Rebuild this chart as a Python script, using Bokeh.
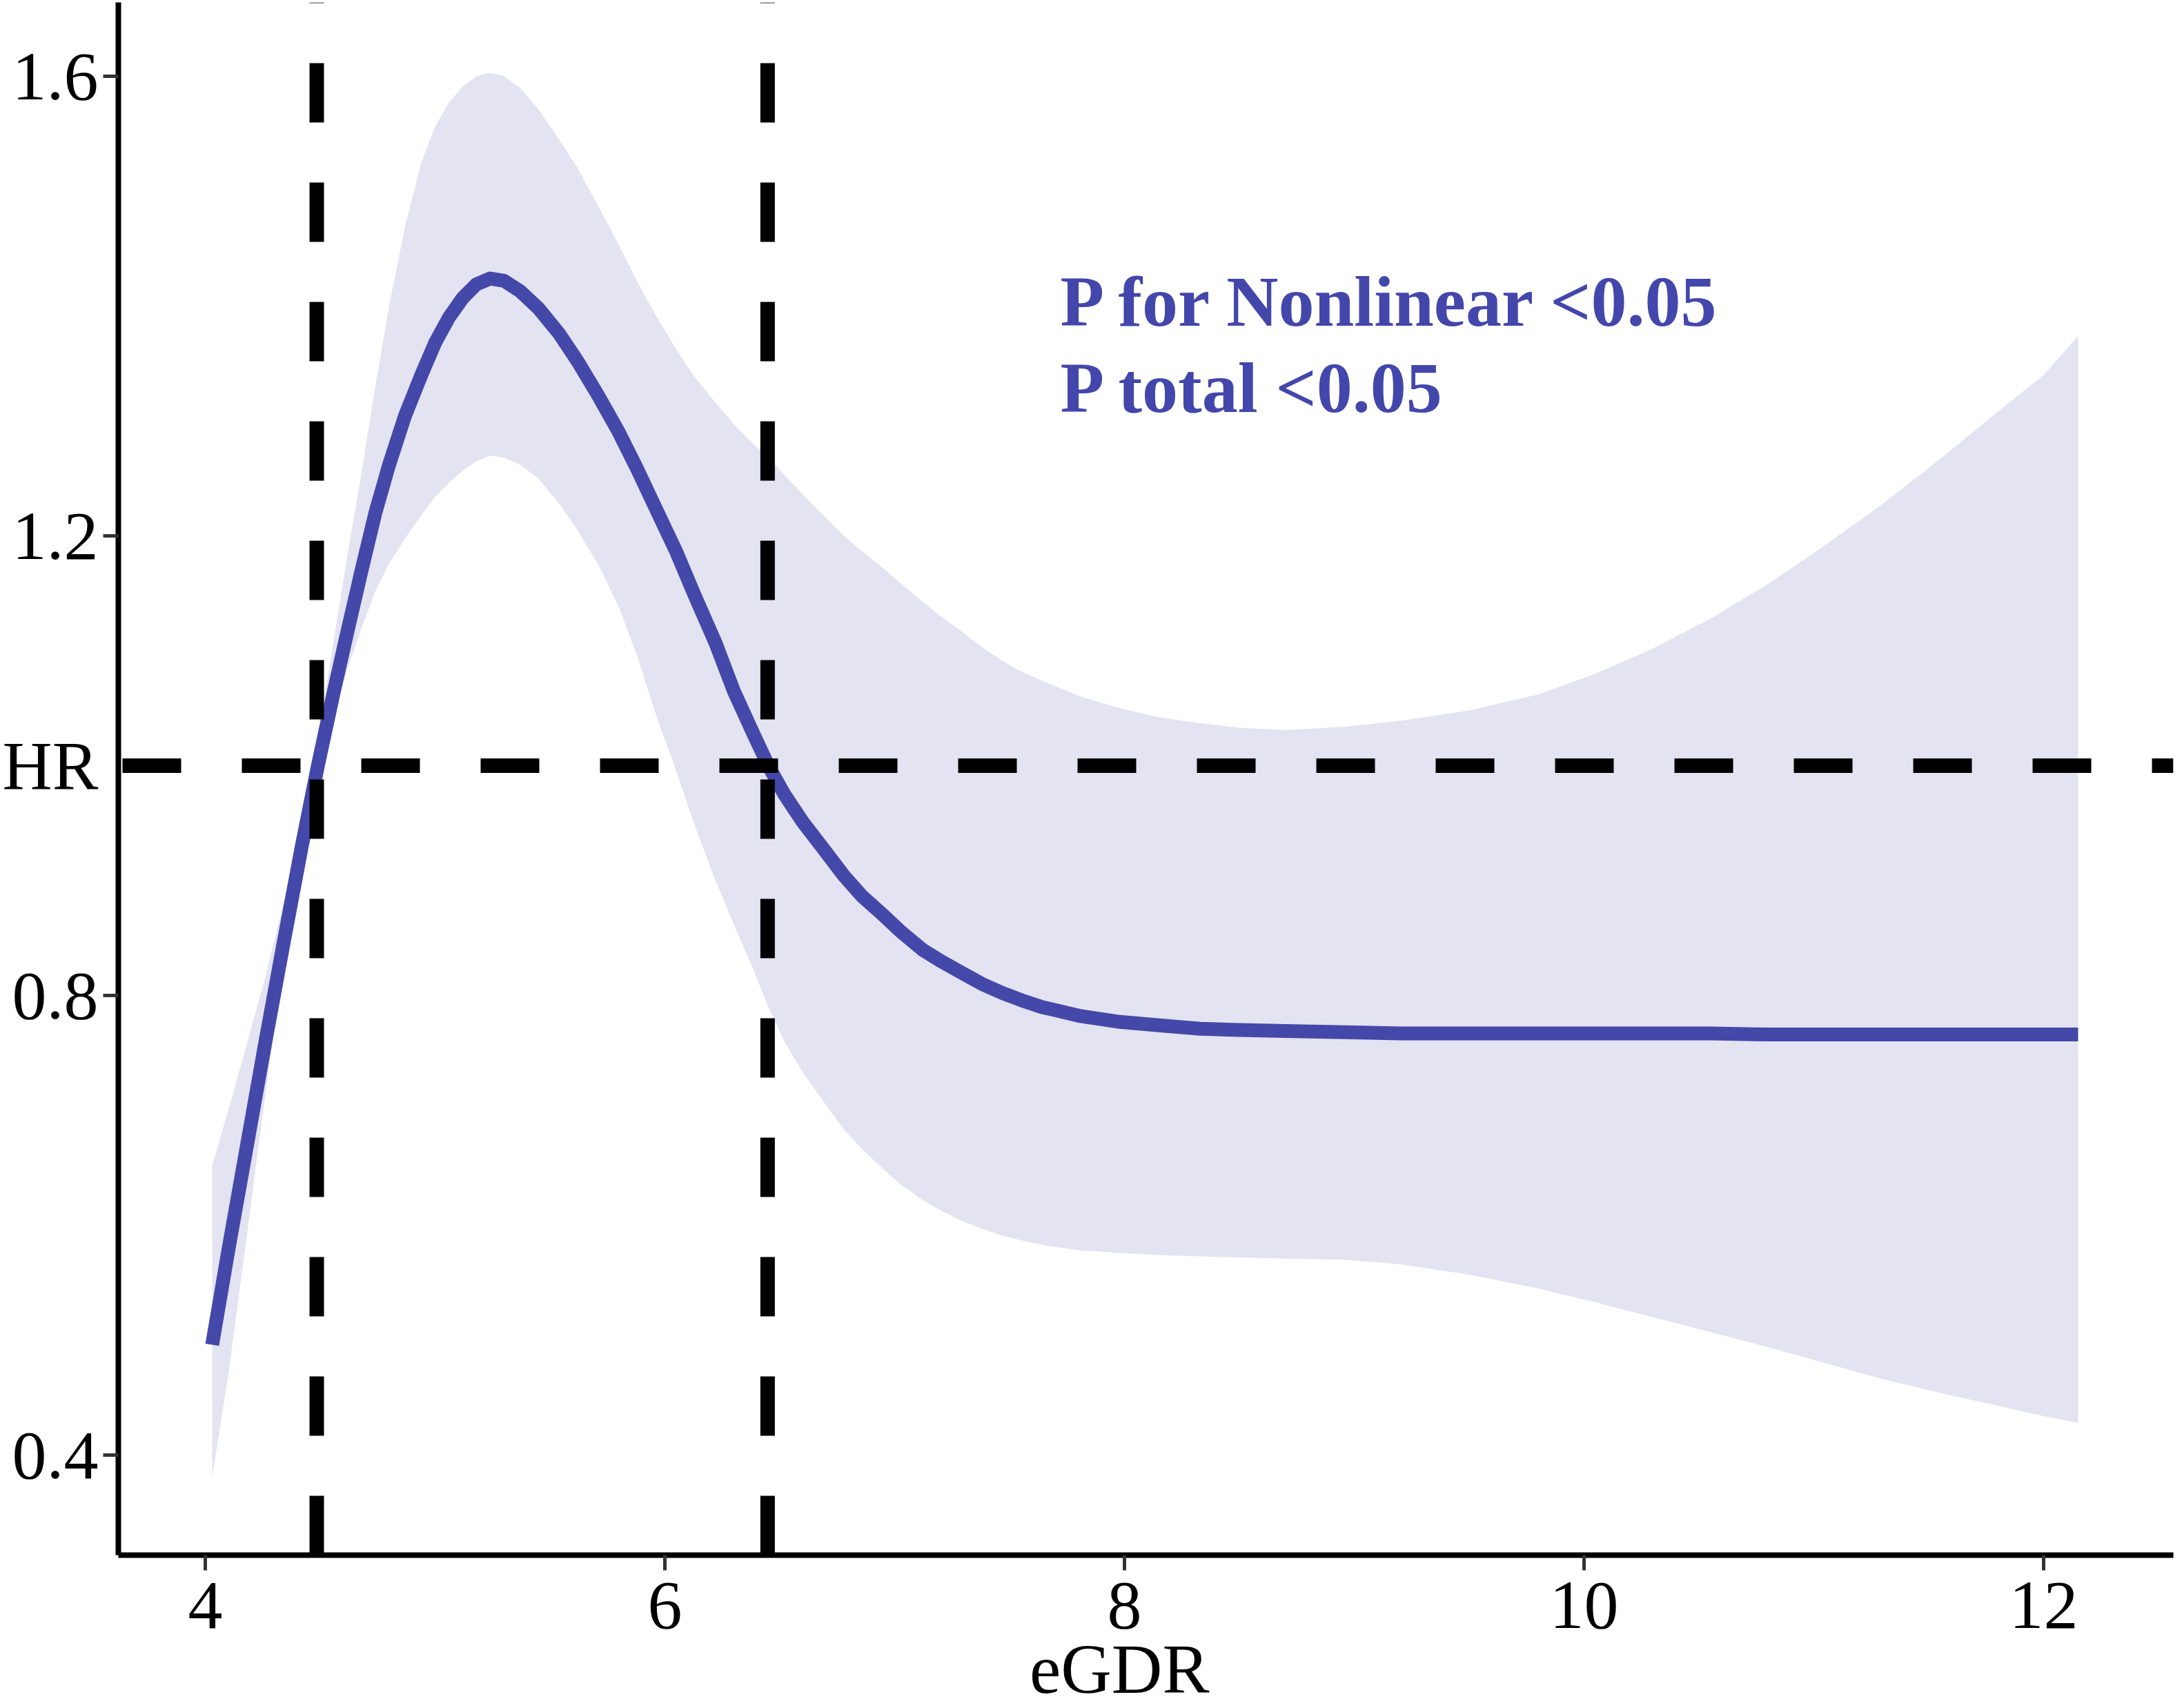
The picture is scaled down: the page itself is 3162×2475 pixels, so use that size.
from bokeh.plotting import figure
from bokeh.models import Range1d, Label, FixedTicker
from bokeh.embed import file_html
from bokeh.resources import INLINE

# ---- data ----
egdr = [4.03, 4.10, 4.18, 4.26, 4.34, 4.42, 4.49, 4.56, 4.62, 4.68, 4.74, 4.80,
        4.87, 4.94, 5.00, 5.06, 5.12, 5.18, 5.24, 5.30, 5.37, 5.45, 5.54, 5.62,
        5.71, 5.80, 5.88, 5.96, 6.05, 6.13, 6.22, 6.30, 6.38, 6.45, 6.52, 6.60,
        6.70, 6.78, 6.86, 6.95, 7.03, 7.12, 7.20, 7.29, 7.38, 7.47, 7.55, 7.64,
        7.81, 7.98, 8.15, 8.33, 8.50, 8.70, 8.96, 9.20, 9.50, 9.80, 10.05,
        10.30, 10.55, 10.80, 11.05, 11.30, 11.55, 11.80, 12.00, 12.15]
hr = [0.496, 0.578, 0.668, 0.758, 0.845, 0.930, 1.000, 1.065, 1.118, 1.170,
      1.220, 1.262, 1.305, 1.340, 1.368, 1.390, 1.407, 1.419, 1.424, 1.422,
      1.413, 1.398, 1.376, 1.352, 1.322, 1.290, 1.258, 1.224, 1.186, 1.148,
      1.107, 1.065, 1.030, 1.000, 0.975, 0.951, 0.925, 0.904, 0.886, 0.870,
      0.855, 0.840, 0.830, 0.820, 0.810, 0.802, 0.796, 0.790, 0.782, 0.777,
      0.774, 0.771, 0.770, 0.769, 0.768, 0.767, 0.767, 0.767, 0.767, 0.767,
      0.767, 0.766, 0.766, 0.766, 0.766, 0.766, 0.766, 0.766]
upper = [0.652, 0.700, 0.757, 0.815, 0.880, 0.950, 1.025, 1.110, 1.185, 1.255,
         1.330, 1.400, 1.470, 1.525, 1.556, 1.577, 1.591, 1.600, 1.603, 1.600,
         1.590, 1.571, 1.545, 1.520, 1.487, 1.453, 1.421, 1.392, 1.362, 1.338,
         1.316, 1.297, 1.281, 1.268, 1.253, 1.236, 1.216, 1.200, 1.186, 1.172,
         1.158, 1.143, 1.130, 1.117, 1.103, 1.091, 1.082, 1.074, 1.060, 1.050,
         1.042, 1.037, 1.033, 1.031, 1.034, 1.039, 1.048, 1.062, 1.080, 1.102,
         1.128, 1.158, 1.192, 1.228, 1.267, 1.308, 1.340, 1.374]
lower = [0.381, 0.470, 0.590, 0.712, 0.828, 0.925, 0.985, 1.045, 1.085, 1.120,
         1.152, 1.176, 1.198, 1.218, 1.234, 1.246, 1.257, 1.265, 1.270, 1.268,
         1.262, 1.250, 1.228, 1.205, 1.175, 1.138, 1.095, 1.045, 0.995, 0.948,
         0.900, 0.862, 0.825, 0.790, 0.760, 0.733, 0.705, 0.683, 0.666, 0.649,
         0.635, 0.622, 0.613, 0.604, 0.597, 0.591, 0.587, 0.583, 0.578, 0.576,
         0.574, 0.573, 0.572, 0.571, 0.570, 0.566, 0.557, 0.545, 0.533, 0.520,
         0.507, 0.494, 0.480, 0.466, 0.454, 0.443, 0.434, 0.428]
x_ticks = [4, 6, 8, 10, 12]
y_ticks = [0.4, 0.8, 1.2, 1.6]
y_label_ticks = [0.4, 0.8, 1.0, 1.2, 1.6]
y_overrides = {1.0: "HR"}
cut_points = [4.485, 6.447]
ref_hr = 1.0
annotations = ["P for Nonlinear <0.05", "P total <0.05"]
x_title = "eGDR"

XMIN, XMAX = 3.6216, 12.5646
YMIN, YMAX = 0.3129, 1.6643

FONT = "Liberation Serif"
LINE_COL = "#4448A8"
BAND_COL = "#E3E3F1"
TEXT_COL = "#4346AB"

p = figure(frame_width=2978, frame_height=2250, x_range=Range1d(XMIN, XMAX),
           y_range=Range1d(YMIN, YMAX), output_backend="svg",
           toolbar_location=None, min_border_left=164, min_border_right=4,
           min_border_top=3, min_border_bottom=0)
p.grid.visible = False
p.outline_line_color = None
p.background_fill_color = "white"

# band and curve
p.varea(x=egdr, y1=lower, y2=upper, fill_color=BAND_COL)
p.line(egdr, hr, line_color=LINE_COL, line_width=20, line_join="round")

# reference dashed lines
p.segment(x0=cut_points, y0=[YMIN] * len(cut_points), x1=cut_points,
          y1=[YMAX] * len(cut_points), line_color="black", line_width=21,
          line_dash="86 87")
p.segment(x0=[XMIN], y0=[ref_hr], x1=[XMAX], y1=[ref_hr], line_color="black",
          line_width=21, line_dash="85 88", line_dash_offset=167)

# axes
for ax in (p.xaxis, p.yaxis):
    ax.axis_line_width = 8
    ax.axis_line_color = "black"
    ax.major_tick_line_width = 5
    ax.major_tick_line_color = "#333333"
    ax.major_tick_out = 22
    ax.major_tick_in = 0
    ax.minor_tick_line_color = None
    ax.major_label_text_font = FONT
    ax.major_label_text_font_size = "100px"
    ax.major_label_text_color = "black"
p.xaxis.ticker = FixedTicker(ticks=x_ticks)
p.xaxis.major_label_standoff = 18
# trailing no-break spaces nudge the centred title slightly left, as in the reference
p.xaxis.axis_label = x_title + "\u00a0\u00a0\u00a0"
p.xaxis.axis_label_text_font = FONT
p.xaxis.axis_label_text_font_size = "102px"
p.xaxis.axis_label_text_font_style = "normal"
p.xaxis.axis_label_text_color = "black"
p.xaxis.axis_label_standoff = 0

# y axis: labels at 0.4/0.8/HR/1.2/1.6, tick marks only at numeric values
p.yaxis.ticker = FixedTicker(ticks=y_label_ticks, minor_ticks=y_ticks)
p.yaxis.major_label_overrides = y_overrides
p.yaxis.major_tick_line_color = None
p.yaxis.minor_tick_line_color = "#333333"
p.yaxis.minor_tick_line_width = 5
p.yaxis.minor_tick_out = 22
p.yaxis.minor_tick_in = 0
p.yaxis.major_label_standoff = 7

# annotation text
p.add_layout(Label(x=7.721, y=1.4042, text=annotations[0], text_align="left",
                   text_baseline="alphabetic", text_font=FONT,
                   text_font_style="bold", text_font_size="104px",
                   text_color=TEXT_COL))
p.add_layout(Label(x=7.721, y=1.3291, text=annotations[1], text_align="left",
                   text_baseline="alphabetic", text_font=FONT,
                   text_font_style="bold", text_font_size="104px",
                   text_color=TEXT_COL))

open("out.html", "w").write(file_html(p, INLINE))
